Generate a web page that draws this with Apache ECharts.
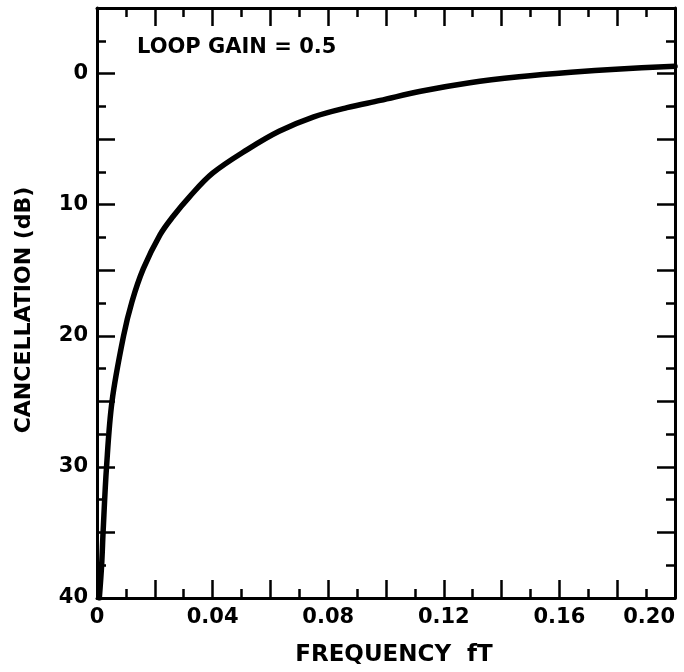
<!DOCTYPE html>
<html>
<head>
<meta charset="utf-8">
<title>Cancellation vs frequency</title>
<script src="https://cdn.jsdelivr.net/npm/echarts@6/dist/echarts.min.js"></script>
<style>
  html, body { margin: 0; padding: 0; background: #fff; }
  #chart { width: 684px; height: 672px; }
</style>
</head>
<body>
<div id="chart"></div>
<script>
// Normalised frequency fT and the resulting cancellation in dB
const freqT = [0.0008, 0.0016, 0.0021, 0.0033, 0.0052, 0.0092, 0.0121, 0.0160, 0.0218,
               0.0263, 0.0320, 0.0400, 0.0520, 0.0630, 0.0750, 0.0865, 0.0980, 0.1120,
               0.1290, 0.1460, 0.1640, 0.1810, 0.2000];
const cancelDb = [40, 37.5, 35, 30, 25, 20, 17.4, 14.9, 12.3,
                  10.9, 9.4, 7.6, 5.8, 4.4, 3.3, 2.6, 2.05, 1.35,
                  0.7, 0.25, -0.1, -0.35, -0.55];

// Labelled ticks
const freqLabelTicks = [0, 0.04, 0.08, 0.12, 0.16, 0.20];
const dbLabelTicks = [0, 10, 20, 30, 40];

const annotation = 'LOOP GAIN = 0.5';
const xTitle = 'FREQUENCY  fT';
const yTitle = 'CANCELLATION (dB)';

const FONT = '"DejaVu Sans", sans-serif';
const INK = '#000';

const points = freqT.map((f, i) => [f, cancelDb[i]]);

const tickStyle = { color: INK, width: 2.5 };
const lineStyle = { color: INK, width: 3 };

function freqLabel(v) {
  const k = Math.round(v * 100);
  const hit = freqLabelTicks.some(t => Math.round(t * 100) === k);
  if (!hit) return '';
  return k === 0 ? '0' : v.toFixed(2);
}
function dbLabel(v) {
  return dbLabelTicks.indexOf(Math.round(v)) >= 0 ? String(Math.round(v)) : '';
}

const xCommon = {
  type: 'value', min: 0, max: 0.2, interval: 0.02,
  splitLine: { show: false },
  axisLine: { show: true, onZero: false, lineStyle },
  axisTick: { show: true, inside: true, length: 18, lineStyle: tickStyle },
  minorTick: { show: true, splitNumber: 2, length: 9, lineStyle: tickStyle }
};
const yCommon = {
  type: 'value', min: -5, max: 40, interval: 5, inverse: true,
  splitLine: { show: false },
  axisLine: { show: true, onZero: false, lineStyle },
  axisTick: { show: true, inside: true, length: 18, lineStyle: tickStyle },
  minorTick: { show: true, splitNumber: 2, length: 9, lineStyle: tickStyle }
};

const chart = echarts.init(document.getElementById('chart'), null, { renderer: 'canvas' });
chart.setOption({
  animation: false,
  backgroundColor: '#fff',
  grid: { left: 97, right: 9, top: 8, bottom: 74, containLabel: false, outerBoundsMode: 'none' },
  xAxis: [
    Object.assign({}, xCommon, {
      position: 'bottom',
      name: xTitle,
      nameLocation: 'middle',
      nameGap: 46,
      nameTextStyle: { fontFamily: FONT, fontWeight: 'bold', fontSize: 23, color: INK,
        padding: [0, 0, 0, 16] },
      axisLabel: { show: true, margin: 9, formatter: freqLabel, hideOverlap: false,
        alignMaxLabel: 'right',
        fontFamily: FONT, fontWeight: 'bold', fontSize: 21, color: INK }
    }),
    Object.assign({}, xCommon, { position: 'top', axisLabel: { show: false } })
  ],
  yAxis: [
    Object.assign({}, yCommon, {
      position: 'left',
      axisLabel: { show: true, margin: 9, formatter: dbLabel,
        fontFamily: FONT, fontWeight: 'bold', fontSize: 21, color: INK }
    }),
    Object.assign({}, yCommon, { position: 'right', axisLabel: { show: false } })
  ],
  graphic: [
    {
      type: 'text', left: 137, top: 37,
      style: { text: annotation, fill: INK, font: 'bold 21px ' + FONT }
    },
    {
      type: 'text', x: 24, y: 310, rotation: Math.PI / 2,
      style: { text: yTitle, fill: INK, font: 'bold 22px ' + FONT,
        align: 'center', verticalAlign: 'middle' }
    }
  ],
  series: [{
    type: 'line',
    xAxisIndex: 0, yAxisIndex: 0,
    data: points,
    showSymbol: false,
    symbol: 'none',
    smooth: 0.35,
    lineStyle: { color: INK, width: 5.5, cap: 'round', join: 'round' }
  }]
});
</script>
</body>
</html>
